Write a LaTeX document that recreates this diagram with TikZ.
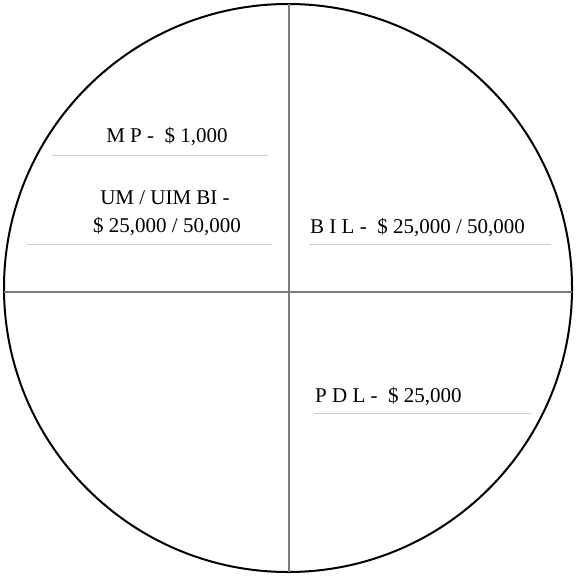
\documentclass[tikz,border=0pt]{standalone}
\usepackage{fontspec}
\setmainfont{Liberation Serif}
\usepackage{xcolor}
\definecolor{crossgrey}{HTML}{7A7A7A}
\definecolor{rulegrey}{HTML}{CCCCCC}

\begin{document}
\begin{tikzpicture}[
  x=1pt, y=-1pt,
  disc/.style={draw=black, line width=2pt},
  cross/.style={draw=crossgrey, line width=2.2pt},
  rule/.style={draw=rulegrey, line width=1pt},
  limit/.style={font=\fontsize{21}{28}\selectfont, inner sep=0pt, align=center}
]
\useasboundingbox (0,0) rectangle (575,577);
\draw[disc] (288,288) circle (284);
\coordinate (top) at (289,4);
\coordinate (bottom) at (289,572);
\coordinate (left) at (4,292);
\coordinate (right) at (572,292);
\draw[cross] (top) -- (bottom);
\draw[cross] (left) -- (right);

\node[limit] (mp) at (167,137) {M P -\ \ \$ 1,000};
\node[limit] (um) at (165,213) {UM / UIM BI -\\\hspace*{4pt}\$ 25,000 / 50,000};
\node[limit, anchor=west] (bil) at (310,228) {B I L -\ \ \$ 25,000 / 50,000};
\node[limit, anchor=west] (pdl) at (315,397) {P D L -\ \ \$ 25,000};

\draw[rule] (52,156) -- (268,156);
\draw[rule] (27,244) -- (272,244);
\draw[rule] (309,244) -- (551,244);
\draw[rule] (314,413) -- (531,413);
\end{tikzpicture}
\end{document}
